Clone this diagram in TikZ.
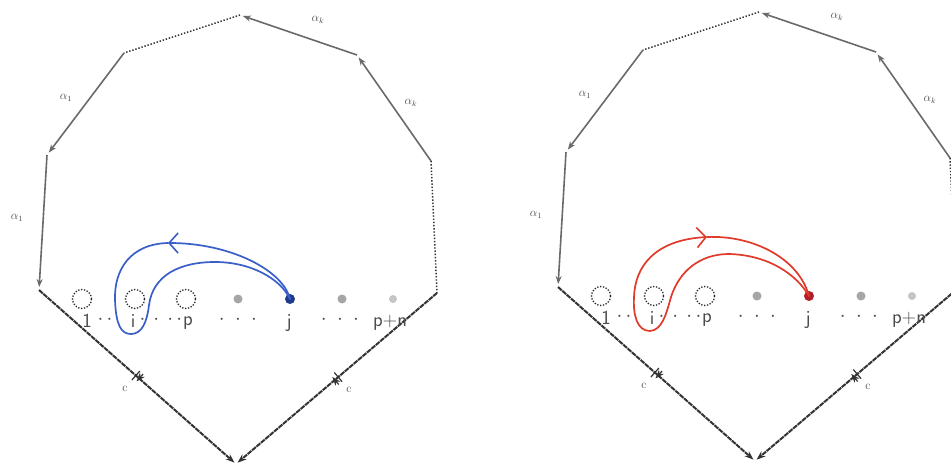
\documentclass[tikz,border=0pt]{standalone}
\usetikzlibrary{arrows.meta,decorations.markings}
\definecolor{edgegray}{HTML}{6A6A6A}
\definecolor{loopblue}{HTML}{3A5FC8}
\definecolor{dotblue}{HTML}{1F3A8A}
\definecolor{loopred}{HTML}{E03A2A}
\definecolor{dotred}{HTML}{B0202A}
\tikzset{
  sideedge/.style={draw=edgegray, line width=1.6pt,
    -{Stealth[length=8pt,width=6pt]}, shorten >=3pt},
  dotedge/.style={draw=black!80, line width=1.5pt, dash pattern=on 1.4pt off 1.8pt},
  baseedge/.style={draw=black!80, line width=2pt, dash pattern=on 5pt off 0.8pt,
    -{Stealth[length=9pt,width=6.5pt]}, shorten >=2pt,
    postaction=decorate, decoration={markings, mark=at position 0.5 with
      {\draw[line width=1.2pt, solid, black!80] (-2.2,-6) -- (-2.2,6) (2.2,-6) -- (2.2,6);}}},
  edgelabel/.style={text=black!70, font=\fontsize{12}{12}\selectfont, inner sep=1pt},
  hole/.style={circle, draw=black!85, line width=1.3pt, dash pattern=on 1.3pt off 1.6pt,
    minimum size=19pt, inner sep=0pt},
  puncture/.style={circle, fill=gray!70, minimum size=9pt, inner sep=0pt},
  faintpuncture/.style={circle, fill=gray!45, minimum size=8pt, inner sep=0pt},
  hand/.style={text=black!70, font=\sffamily\fontsize{20}{20}\selectfont, inner sep=0pt},
  loopline/.style={line width=1.7pt, line cap=round, line join=round},
}
% one polygon with its marked points; #1 = name prefix, #2 = colour of point j
\newcommand\drawpanel[2]{
  \coordinate (#1-t)  at (240,15);
  \coordinate (#1-tl) at (124,53);
  \coordinate (#1-l)  at (47,155);
  \coordinate (#1-bl) at (39,290);
  \coordinate (#1-b)  at (236,464);
  \coordinate (#1-br) at (437,293);
  \coordinate (#1-r)  at (431,161);
  \coordinate (#1-tr) at (357,55);
  \draw[dotedge]  (#1-t) -- (#1-tl);
  \draw[sideedge] (#1-tr) -- (#1-t);
  \draw[sideedge] (#1-r) -- (#1-tr);
  \draw[dotedge]  (#1-r) -- (#1-br);
  \draw[sideedge] (#1-tl) -- (#1-l);
  \draw[sideedge] (#1-l) -- (#1-bl);
  \draw[baseedge] (#1-bl) -- (#1-b);
  \draw[baseedge] (#1-br) -- (#1-b);
  \node[edgelabel] (#1-ak1) at (318,20)  {$\alpha_k$};
  \node[edgelabel] (#1-ak2) at (411,103) {$\alpha_k$};
  \node[edgelabel] (#1-a11) at (66,98)   {$\alpha_1$};
  \node[edgelabel] (#1-a12) at (17,218)  {$\alpha_1$};
  \node[edgelabel] (#1-c1)  at (125,389) {c};
  \node[edgelabel] (#1-c2)  at (349,390) {c};
  \node[hole] (#1-p1) at (82,299) {};
  \node[hole] (#1-pi) at (135,299) {};
  \node[hole] (#1-pp) at (186,299) {};
  \node[puncture] (#1-p4) at (238,299) {};
  \node[circle, fill=#2, minimum size=10pt, inner sep=0pt] (#1-pj) at (290,299) {};
  \node[puncture] (#1-p6) at (342,299) {};
  \node[faintpuncture] (#1-pn) at (393,299) {};
  \node[hand] (#1-n1) at (87,321) {1};
  \node[hand] (#1-d1) at (105,320) {$\cdot\,\cdot$};
  \node[hand] (#1-ni) at (133,321) {i};
  \node[hand] (#1-d2) at (161,320) {$\cdot\,\cdot\,\cdot\,\cdot$};
  \node[hand] (#1-np) at (188,323) {p};
  \node[hand] (#1-d3) at (238,320) {$\cdot\;\cdot\;\cdot$};
  \node[hand] (#1-nj) at (289,323) {j};
  \node[hand] (#1-d4) at (340,320) {$\cdot\;\cdot\;\cdot$};
  \node[hand] (#1-nn) at (390,323) {p+n};
}
\begin{document}
\begin{tikzpicture}[x=1pt, y=-1pt]
  \useasboundingbox (0,0) rectangle (951,466);
  \clip (0,0) rectangle (951,466);
  \fill[white] (0,0) rectangle (951,466);

  % left polygon with the blue loop around point i
  \begin{scope}
    \drawpanel{L}{dotblue}
    \coordinate (L-tip) at (168,243);
    \draw[loopline, draw=loopblue, -{Straight Barb[length=9pt,width=20pt,line width=1.6pt]}]
      (L-pj.center) .. controls (283,270) and (230,243) .. (L-tip);
    \draw[loopline, draw=loopblue]
      (L-tip) .. controls (130,244) and (114,270) .. (115,300)
      .. controls (116,325) and (121,334) .. (131,334)
      .. controls (142,334) and (147,322) .. (149,305)
      .. controls (153,275) and (180,262) .. (215,262)
      .. controls (250,262) and (280,278) .. (L-pj.center);
  \end{scope}

  % right polygon with the red loop, traversed the other way
  \begin{scope}[shift={(519,-3)}]
    \drawpanel{R}{dotred}
    \coordinate (R-tip) at (188,240);
    \draw[loopline, draw=loopred, -{Straight Barb[length=9pt,width=20pt,line width=1.6pt]}]
      (R-pj.center) .. controls (278,278) and (250,258) .. (210,257)
      .. controls (180,257) and (160,275) .. (152,300)
      .. controls (147,318) and (143,333) .. (131,334)
      .. controls (118,334) and (114,318) .. (115,300)
      .. controls (116,270) and (135,243) .. (R-tip);
    \draw[loopline, draw=loopred]
      (R-tip) .. controls (235,238) and (280,262) .. (R-pj.center);
  \end{scope}
\end{tikzpicture}
\end{document}
